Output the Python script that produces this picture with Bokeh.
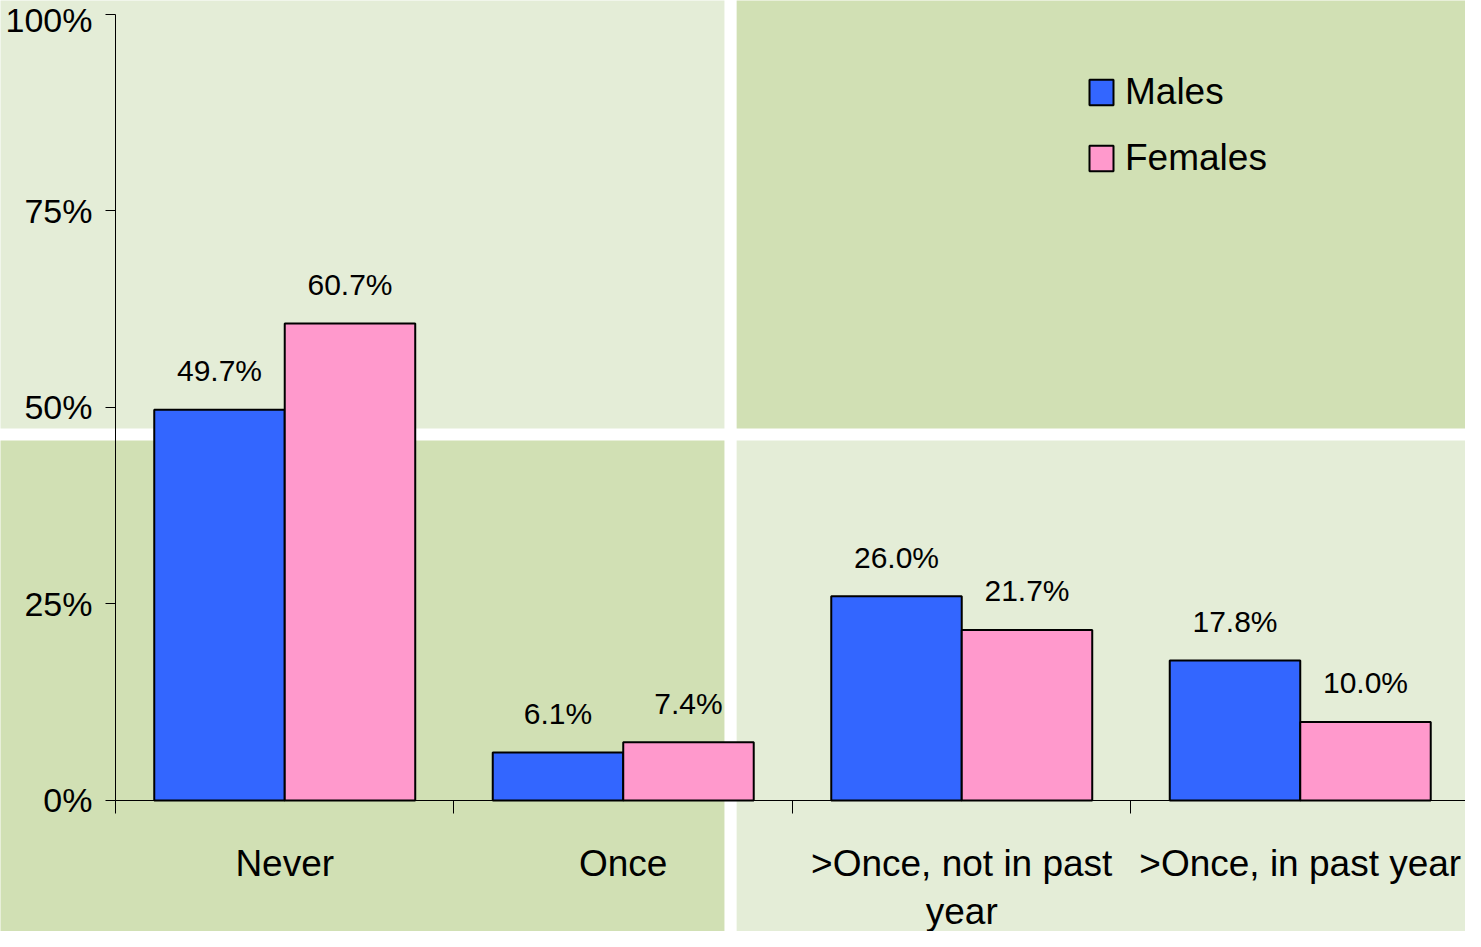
from bokeh.plotting import figure
from bokeh.models import Range1d, LinearAxis, FixedTicker, ColumnDataSource
from bokeh.core.properties import value
from bokeh.embed import file_html
from bokeh.resources import INLINE

# ---------------- data ----------------
categories = ["Never", "Once", ">Once, not in past year", ">Once, in past year"]
cat_label_line1 = ["Never", "Once", ">Once, not in past", ">Once, in past year"]
cat_label_line2 = ["", "", "year", ""]
males = [49.7, 6.1, 26.0, 17.8]
females = [60.7, 7.4, 21.7, 10.0]
y_tick_values = [0, 25, 50, 75, 100]
y_tick_labels = ["0%", "25%", "50%", "75%", "100%"]
series_names = ["Males", "Females"]

# ---------------- style ----------------
FONT = "Liberation Sans"
BLUE = "#3366FF"
PINK = "#FF99CC"
LIGHT = "#E4EDD7"
DARK = "#D1E0B4"
W, H = 1465, 931
BAR_W = 0.3855

n = len(categories)
centers = [i + 0.5 for i in range(n)]
male_x = [c - BAR_W / 2 for c in centers]
female_x = [c + BAR_W / 2 for c in centers]

p = figure(width=W, height=H, output_backend="svg", toolbar_location=None,
           x_axis_type=None, y_axis_type=None,
           x_range=Range1d(-0.3397, 3.9882), y_range=Range1d(-16.667, 101.78),
           min_border=0, outline_line_color=None)
p.background_fill_color = "white"
p.border_fill_color = "white"
p.xgrid.visible = False
p.ygrid.visible = False

# background quadrants (decoration)
p.quad(left=[-1, 1.835, -1, 1.835], right=[1.799, 6, 1.799, 6],
       bottom=[47.33, 47.33, -40, -40], top=[130, 130, 45.8, 45.8],
       fill_color=[LIGHT, DARK, DARK, LIGHT], line_color=None)

src_m = ColumnDataSource(dict(x=male_x, top=males, lab=[f"{v:.1f}%" for v in males]))
src_f = ColumnDataSource(dict(x=female_x, top=females, lab=[f"{v:.1f}%" for v in females]))

p.vbar(x="x", top="top", bottom=0, width=BAR_W, source=src_m, fill_color=BLUE,
       line_color="black", line_width=2, legend_label=series_names[0])
p.vbar(x="x", top="top", bottom=0, width=BAR_W, source=src_f, fill_color=PINK,
       line_color="black", line_width=2, legend_label=series_names[1])

for src in (src_m, src_f):
    p.text(x="x", y="top", text="lab", source=src, text_align="center",
           text_baseline="alphabetic", y_offset=-39, text_color="black",
           text_font=value(FONT), text_font_size="30px")

# y axis
yax = LinearAxis(ticker=FixedTicker(ticks=y_tick_values),
                 major_label_overrides={v: l for v, l in zip(y_tick_values, y_tick_labels)})
yax.fixed_location = 0
yax.bounds = (0, 100)
yax.axis_line_color = "black"
yax.axis_line_width = 1
yax.major_tick_out = 10
yax.major_tick_in = 0
yax.major_tick_line_color = "black"
yax.minor_tick_line_color = None
yax.major_label_standoff = 13
yax.major_label_text_font = FONT
yax.major_label_text_font_size = "34px"
yax.major_label_text_color = "black"
p.add_layout(yax, "left")

# x axis: line, boundary ticks (minor) and first label lines
boundaries = list(range(n + 1))
xax = LinearAxis(ticker=FixedTicker(ticks=centers, minor_ticks=boundaries),
                 major_label_overrides={c: l for c, l in zip(centers, cat_label_line1)})
xax.fixed_location = 0
xax.bounds = (0, n)
xax.axis_line_color = "black"
xax.axis_line_width = 1
xax.major_tick_line_color = None
xax.major_tick_out = 0
xax.major_tick_in = 0
xax.minor_tick_line_color = "black"
xax.minor_tick_out = 13
xax.minor_tick_in = 0
xax.major_label_standoff = 30
xax.major_label_text_font = FONT
xax.major_label_text_font_size = "37px"
xax.major_label_text_color = "black"
p.add_layout(xax, "below")

# second label lines
c2 = [c for c, l in zip(centers, cat_label_line2) if l]
l2 = [l for l in cat_label_line2 if l]
xax2 = LinearAxis(ticker=FixedTicker(ticks=c2, minor_ticks=[]),
                  major_label_overrides={c: l for c, l in zip(c2, l2)})
xax2.fixed_location = 0
xax2.axis_line_color = None
xax2.major_tick_line_color = None
xax2.minor_tick_line_color = None
xax2.major_tick_out = 0
xax2.major_tick_in = 0
xax2.major_label_standoff = 91
xax2.major_label_text_font = FONT
xax2.major_label_text_font_size = "37px"
xax2.major_label_text_color = "black"
p.add_layout(xax2, "below")

leg = p.legend[0]
leg.location = (1086, 752)
leg.padding = 0
leg.margin = 0
leg.spacing = 24
leg.glyph_width = 30
leg.glyph_height = 32
leg.label_standoff = 9
leg.border_line_color = None
leg.background_fill_alpha = 0
leg.label_text_font = FONT
leg.label_text_font_size = "37px"
leg.label_text_color = "black"

open("out.html", "w").write(file_html(p, INLINE))
